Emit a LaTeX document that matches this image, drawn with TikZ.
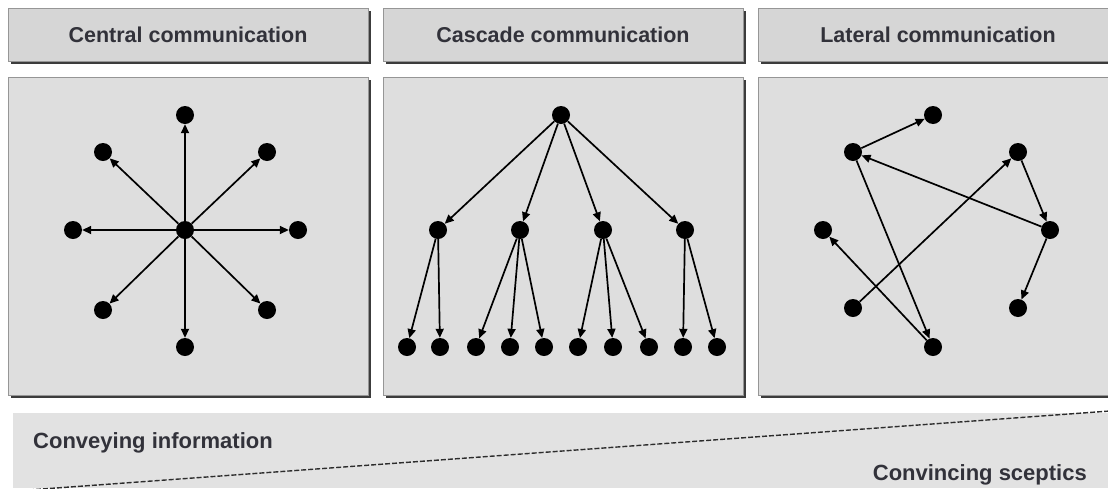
\documentclass[tikz,border=0pt]{standalone}
\usepackage{fontspec}
\setmainfont{Liberation Sans}
\usetikzlibrary{arrows.meta}
\definecolor{hdrfill}{RGB}{214,214,214}
\definecolor{panelfill}{RGB}{222,222,222}
\definecolor{bandfill}{RGB}{226,226,226}
\definecolor{shadowc}{RGB}{60,60,60}
\definecolor{framec}{RGB}{150,150,150}
\definecolor{txtc}{RGB}{50,50,58}
\begin{document}
\begin{tikzpicture}[x=1pt,y=-1pt,
  dot/.style={circle,fill=black,inner sep=0pt,minimum size=18pt},
  arr/.style={line width=1.7pt,-{Triangle[length=9pt,width=8pt]}},
  htext/.style={font=\bfseries\fontsize{21.5}{24}\selectfont,text=txtc,inner sep=0pt},
  btext/.style={font=\bfseries\fontsize{22}{24}\selectfont,text=txtc,inner sep=0pt},
  boxframe/.style={fill=#1,draw=framec,line width=0.8pt},
  shadowbox/.style={fill=shadowc}]
\useasboundingbox (0,0) rectangle (1108,488);
\clip (0,0) rectangle (1108,488);
\fill[white] (0,0) rectangle (1108,488);

% headers and panels
\foreach \x/\t/\n in {8/Central communication/h1, 383/Cascade communication/h2, 758/Lateral communication/h3}{
  \fill[shadowbox] (\x+2.5,10.5) rectangle (\x+362.5,63.5);
  \draw[boxframe=hdrfill] (\x,8) rectangle (\x+360,61);
  \node[htext] (\n) at (\x+180,34.5) {\t};
  \fill[shadowbox] (\x+2.5,79.5) rectangle (\x+362.5,397.5);
  \draw[boxframe=panelfill] (\x,77) rectangle (\x+360,395);
}

% central communication
\node[dot] (c) at (185,230) {};
\node[dot] (n1) at (185,115) {};
\node[dot] (n2) at (103,152) {};
\node[dot] (n3) at (267,152) {};
\node[dot] (n4) at (73,230) {};
\node[dot] (n5) at (298,230) {};
\node[dot] (n6) at (103,310) {};
\node[dot] (n7) at (267,310) {};
\node[dot] (n8) at (185,347) {};
\foreach \k in {1,...,8}{\draw[arr] (c) -- (n\k);}

% cascade communication
\node[dot] (t) at (561,115) {};
\node[dot] (m1) at (438,230) {};
\node[dot] (m2) at (520,230) {};
\node[dot] (m3) at (603,230) {};
\node[dot] (m4) at (685,230) {};
\foreach \k/\xx in {1/407,2/440,3/476,4/510,5/544,6/578,7/613,8/649,9/683,10/717}{
  \node[dot] (b\k) at (\xx,347) {};
}
\foreach \k in {1,...,4}{\draw[arr] (t) -- (m\k);}
\draw[arr] (m1) -- (b1);
\draw[arr] (m1) -- (b2);
\draw[arr] (m2) -- (b3);
\draw[arr] (m2) -- (b4);
\draw[arr] (m2) -- (b5);
\draw[arr] (m3) -- (b6);
\draw[arr] (m3) -- (b7);
\draw[arr] (m3) -- (b8);
\draw[arr] (m4) -- (b9);
\draw[arr] (m4) -- (b10);

% lateral communication
\node[dot] (A) at (933,115) {};
\node[dot] (B) at (853,152) {};
\node[dot] (C) at (1018,152) {};
\node[dot] (D) at (823,230) {};
\node[dot] (E) at (1050,230) {};
\node[dot] (F) at (853,308) {};
\node[dot] (G) at (1018,308) {};
\node[dot] (H) at (933,347) {};
\draw[arr] (B) -- (A);
\draw[arr] (E) -- (B);
\draw[arr] (F) -- (C);
\draw[arr] (C) -- (E);
\draw[arr] (E) -- (G);
\draw[arr] (B) -- (H);
\draw[arr] (H) -- (D);

% bottom band
\fill[bandfill] (13,413) rectangle (1108,488);
\coordinate (ls) at (15,491);
\coordinate (le) at (1110,411);
\draw[line width=1.4pt,draw=gray!35!black,dash pattern=on 5pt off 2pt] (ls) -- (le);
\node[btext,anchor=base west] (conv) at (33,448) {Conveying information};
\node[btext,anchor=base east] (scep) at (1087,480) {Convincing sceptics};
\end{tikzpicture}
\end{document}
